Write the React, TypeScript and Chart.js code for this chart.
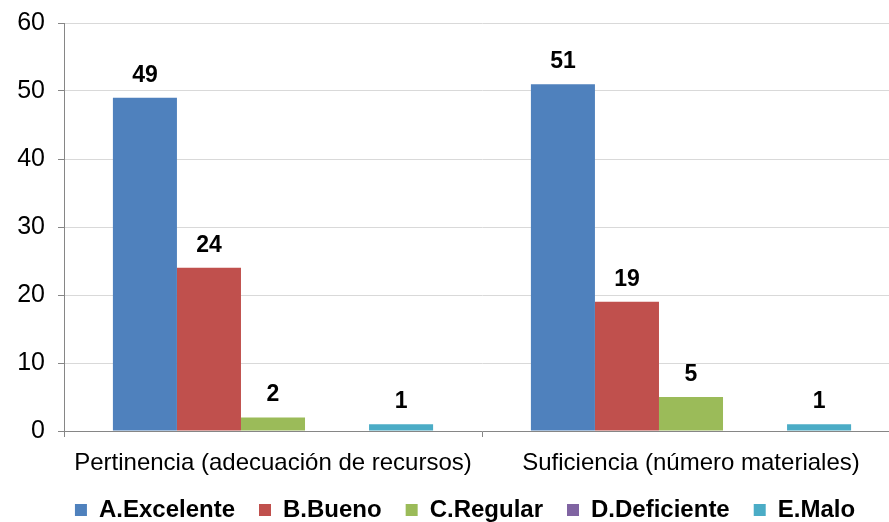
import React, { useEffect, useRef } from "react";
import { Chart, registerables } from "chart.js";

Chart.register(...registerables);

const categories = ["Pertinencia (adecuación de recursos)", "Suficiencia (número materiales)"];
const seriesNames = ["A.Excelente", "B.Bueno", "C.Regular", "D.Deficiente", "E.Malo"];
const excelente = [49, 51];
const bueno = [24, 19];
const regular = [2, 5];
const deficiente = [0, 0];
const malo = [1, 1];
const seriesColors = ["#4f81bd", "#c0504d", "#9bbb59", "#8064a2", "#4bacc6"];
const yMin = 0;
const yMax = 60;
const yStep = 10;

const FONT = "'Liberation Sans', Arial, sans-serif";

const dataLabelPlugin = {
  id: "dataLabels",
  afterDatasetsDraw(chart: any) {
    const ctx = chart.ctx;
    ctx.save();
    ctx.font = `bold 23px ${FONT}`;
    ctx.fillStyle = "#000";
    ctx.textAlign = "center";
    ctx.textBaseline = "alphabetic";
    chart.data.datasets.forEach((ds: any, i: number) => {
      const meta = chart.getDatasetMeta(i);
      meta.data.forEach((bar: any, j: number) => {
        const v = ds.data[j];
        if (!v) return;
        ctx.fillText(String(v), bar.x, bar.y - 16);
      });
    });
    ctx.restore();
  },
};

// widen the label clip areas so tick labels are not cut off
const unclipPlugin = {
  id: "unclipLabels",
  beforeDraw(chart: any) {
    chart.scales.x.bottom = chart.height;
    chart.scales.y.left = 0;
  },
};

export default function App() {
  const ref = useRef<HTMLCanvasElement>(null);
  useEffect(() => {
    if (!ref.current) return;
    const values = [excelente, bueno, regular, deficiente, malo];
    const chart = new Chart(ref.current, {
      type: "bar",
      data: {
        labels: categories,
        datasets: seriesNames.map((name, i) => ({
          label: name,
          data: values[i],
          backgroundColor: seriesColors[i],
          borderWidth: 0,
          barPercentage: 1,
          categoryPercentage: 0.766,
        })),
      },
      options: {
        responsive: false,
        animation: false,
        devicePixelRatio: 1,
        layout: { padding: { top: 23, right: 10, left: 30, bottom: 0 } },
        plugins: {
          tooltip: { enabled: false },
          legend: {
            position: "bottom",
            labels: {
              boxWidth: 12,
              boxHeight: 12,
              padding: 24,
              color: "#000",
              font: { family: FONT, size: 24, weight: "bold" },
            },
          },
        },
        scales: {
          x: {
            afterFit(scale: any) {
              scale.height = 43;
              scale.paddingLeft = 0;
              scale.paddingRight = 0;
            },
            grid: {
              offset: true,
              drawOnChartArea: false,
              drawTicks: true,
              tickLength: 6,
              tickColor: "#868686",
            },
            border: { color: "#868686", width: 1 },
            ticks: {
              color: "#000",
              padding: 12,
              maxRotation: 0,
              font: { family: FONT, size: 24 },
            },
          },
          y: {
            min: yMin,
            max: yMax,
            afterFit(scale: any) {
              scale.width = 34;
              scale.paddingTop = 0;
              scale.paddingBottom = 0;
            },
            grid: {
              color: "#d9d9d9",
              tickColor: "#868686",
              tickLength: 6,
            },
            border: { color: "#868686", width: 1 },
            ticks: {
              stepSize: yStep,
              color: "#000",
              padding: 13,
              font: { family: FONT, size: 25 },
            },
          },
        },
      },
      plugins: [dataLabelPlugin, unclipPlugin],
    });
    return () => chart.destroy();
  }, []);
  return (
    <div style={{ position: "fixed", left: 0, top: 0, width: 889, height: 522, overflow: "hidden", background: "#fff" }}>
      <canvas ref={ref} width={910} height={532} style={{ width: 910, height: 532 }} />
    </div>
  );
}
